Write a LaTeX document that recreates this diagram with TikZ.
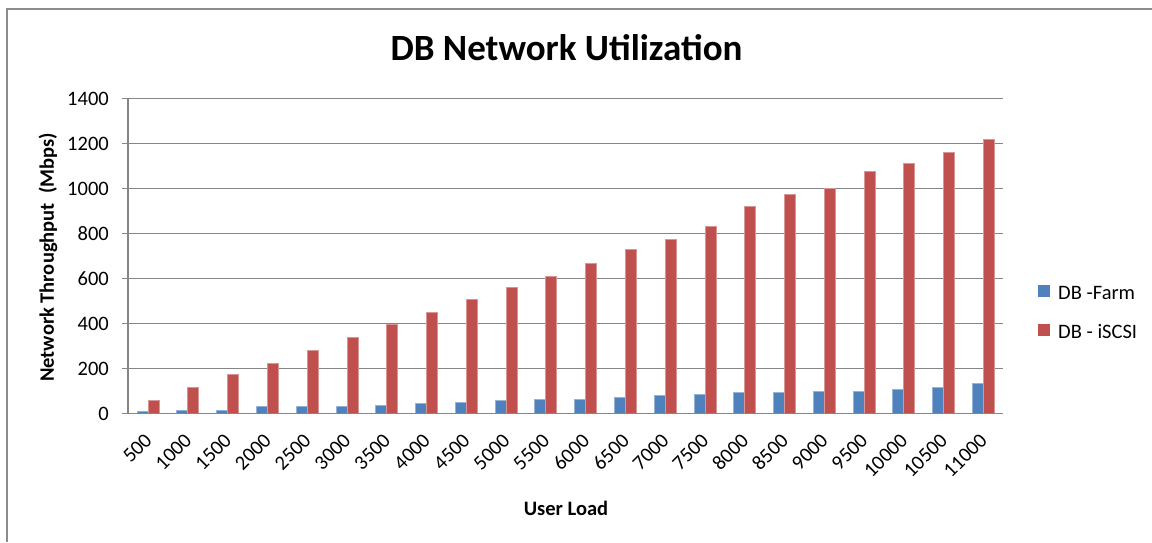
\documentclass[tikz,border=0pt]{standalone}
\usepackage{fontspec}
\setmainfont{Carlito}
\definecolor{farm}{RGB}{79,129,189}
\definecolor{iscsi}{RGB}{192,80,77}
\definecolor{gridgray}{RGB}{134,134,134}
\definecolor{framegray}{RGB}{140,140,140}
\tikzset{
  gridline/.style={draw=gridgray, line width=1.4pt},
  axisline/.style={draw=gridgray, line width=1.6pt},
  ticklabel/.style={inner sep=0pt, font=\fontsize{20.5}{22}\selectfont},
  axistitle/.style={inner sep=0pt, font=\fontsize{20.5}{22}\selectfont\bfseries},
  legendtext/.style={inner sep=0pt, anchor=base west, font=\fontsize{20.5}{22}\selectfont},
  farmbar/.style={fill=farm, draw=farm!60!white, line width=0.4pt},
  iscsibar/.style={fill=iscsi, draw=iscsi!60!white, line width=0.4pt},
}
\begin{document}
\begin{tikzpicture}[x=1pt, y=-1pt]
  \useasboundingbox (0,0) rectangle (1152,542);
  % chart frame (open to the right and bottom)
  \draw[draw=framegray, line width=2pt] (6.5,542) -- (6.5,9) -- (1152,9);

  % horizontal gridlines with value labels
  \foreach \v in {200,400,...,1400} {
    \draw[gridline] (122,{413.5-0.225*\v}) -- (1003,{413.5-0.225*\v});
  }
  \foreach \v in {0,200,...,1400} {
    \node[ticklabel, anchor=east] (yl\v) at (109,{413.5-0.225*\v}) {\v};
  }

  % bars: load, farm value, iSCSI value
  \foreach \load/\fv/\iv [count=\i from 0] in {
      500/9/58, 1000/16/117, 1500/16/173, 2000/31/224, 2500/31/283,
      3000/31/339, 3500/38/396, 4000/44/452, 4500/51/509, 5000/58/560,
      5500/64/610, 6000/64/667, 6500/71/732, 7000/80/776, 7500/87/834,
      8000/95/920, 8500/95/976, 9000/101/1000, 9500/101/1077,
      10000/108/1112, 10500/116/1162, 11000/136/1219} {
    \pgfmathsetmacro{\c}{128+39.773*(\i+0.5)}
    \fill[farmbar] ({\c-11},413.5) rectangle (\c,{413.5-0.225*\fv});
    \fill[iscsibar] (\c,413.5) rectangle ({\c+11},{413.5-0.225*\iv});
    \node[ticklabel, anchor=east, rotate=45] (xl\i) at ({\c+0.5},437) {\load};
  }

  % axes
  \draw[axisline] (128,98.5) -- (128,413.5);
  \draw[axisline] (122,413.5) -- (1003,413.5);

  % titles
  \node[inner sep=0pt, anchor=base, font=\fontsize{37}{40}\selectfont\bfseries]
    (title) at (566.5,60) {DB Network Utilization};
  \node[axistitle, anchor=base] (xtitle) at (566,515) {User Load};
  \node[axistitle, rotate=90] (ytitle) at (48,257.5) {Network Throughput\ \ (Mbps)};

  % legend
  \fill[farm] (1038,284.5) rectangle (1050,296.5);
  \node[legendtext] (lgfarm) at (1058,299) {DB -Farm};
  \fill[iscsi] (1038,324) rectangle (1050,336);
  \node[legendtext] (lgiscsi) at (1058,338.3) {DB - iSCSI};
\end{tikzpicture}
\end{document}
